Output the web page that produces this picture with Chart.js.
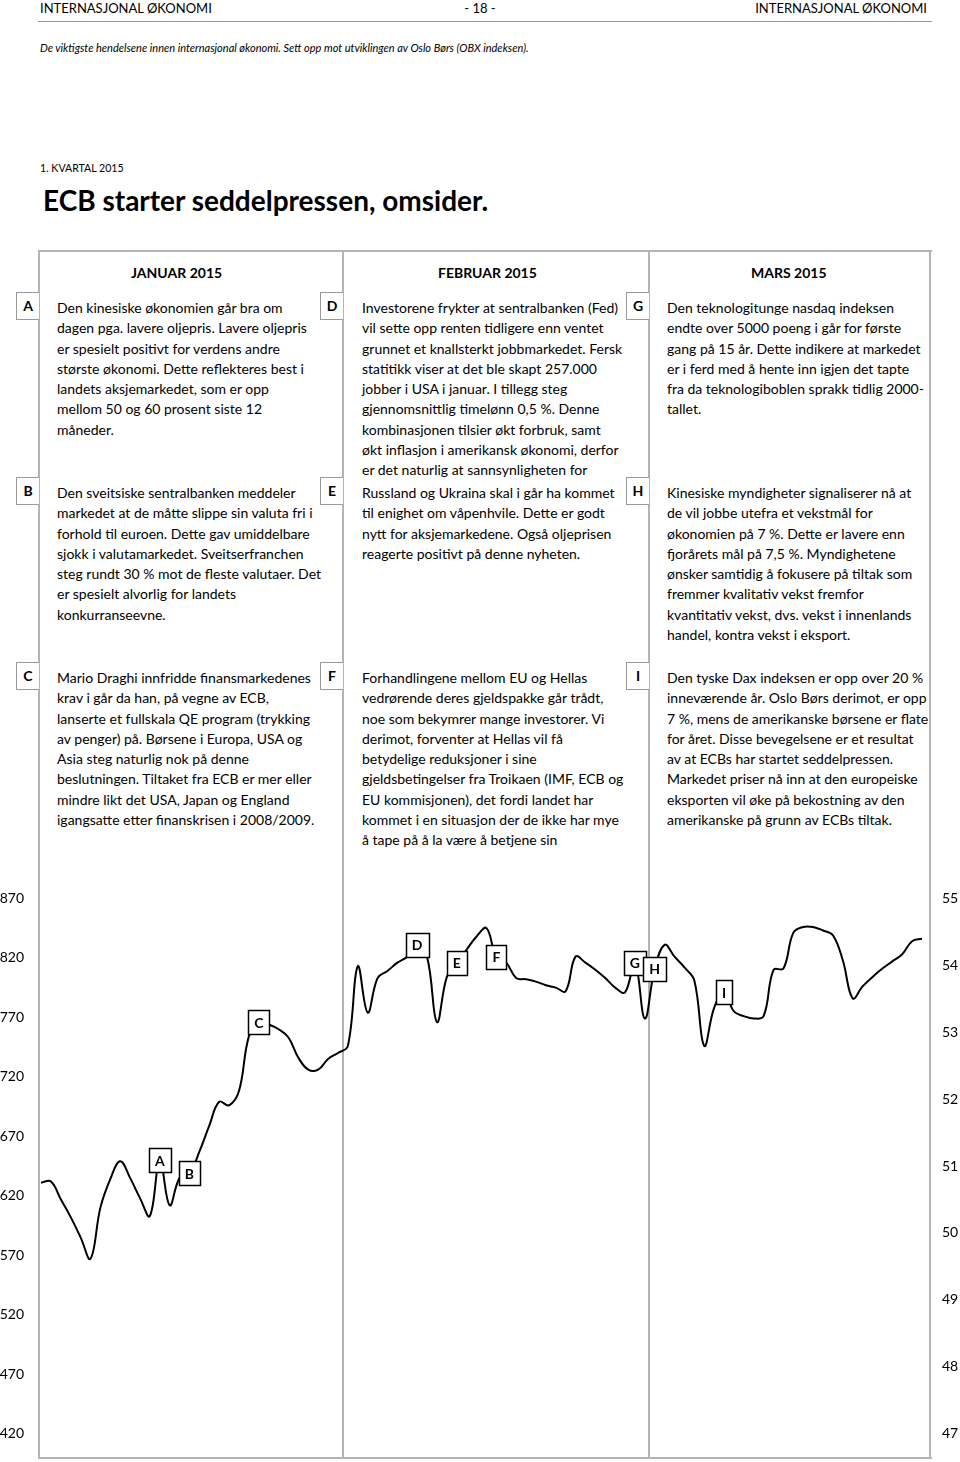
<!DOCTYPE html>
<html lang="no">
<head>
<meta charset="utf-8">
<title>Internasjonal økonomi - 1. kvartal 2015</title>
<script src="https://cdn.jsdelivr.net/npm/chart.js@4.4.1/dist/chart.umd.min.js"></script>
<style>
  body { margin: 0; width: 960px; height: 1462px; position: relative; overflow: hidden;
         background: #fff; color: #000; font-family: Lato, "Open Sans", sans-serif; }
  .t { position: absolute; white-space: nowrap; }
  .topp { font-size: 13px; line-height: 20px; top: -2px; }
  .tekst { font-size: 14px; line-height: 20.3px; }
  .mnd { font-size: 14px; font-weight: bold; line-height: 20px; top: 263px; }
  .boks { position: absolute; box-sizing: border-box; width: 23px; height: 28px;
          border: 1px solid #9a9a9a; border-right: none; background: #fff;
          font-size: 14px; font-weight: bold; line-height: 26px; text-align: center; }
  .linje { position: absolute; background: #b4b4b4; }
  #graf { position: absolute; left: 0; top: 870px; }
</style>
</head>
<body>

<div class="t topp" style="left:40px">INTERNASJONAL ØKONOMI</div>
<div class="t topp" style="left:0;width:960px;text-align:center">- 18 -</div>
<div class="t topp" style="right:33px">INTERNASJONAL ØKONOMI</div>
<div class="linje" style="left:38px;top:21px;width:894px;height:1px;background:#999"></div>

<div class="t" style="left:40px;top:38px;font-size:11px;font-style:italic;line-height:20px">De viktigste hendelsene innen internasjonal økonomi. Sett opp mot utviklingen av Oslo Børs (OBX indeksen).</div>
<div class="t" style="left:40px;top:160px;font-size:10.6px;line-height:16px">1. KVARTAL 2015</div>
<div class="t" style="left:43px;top:182px;font-size:28px;font-weight:bold;line-height:36px">ECB starter seddelpressen, omsider.</div>

<!-- rammen rundt tabellen -->
<div class="linje" style="left:38px;top:250px;width:894px;height:2px"></div>
<div class="linje" style="left:38px;top:1457px;width:894px;height:2px"></div>
<div class="linje" style="left:38px;top:250px;width:2px;height:1209px"></div>
<div class="linje" style="left:342px;top:250px;width:2px;height:1209px"></div>
<div class="linje" style="left:648px;top:250px;width:2px;height:1209px"></div>
<div class="linje" style="left:929px;top:250px;width:2px;height:1209px"></div>

<div class="t mnd" style="left:131px">JANUAR 2015</div>
<div class="t mnd" style="left:438px">FEBRUAR 2015</div>
<div class="t mnd" style="left:751px">MARS 2015</div>

<!-- bokstavbokser, høyre kant ligger på kolonnelinja -->
<div class="boks" style="left:16px;top:292px">A</div>
<div class="boks" style="left:320px;top:292px">D</div>
<div class="boks" style="left:626px;top:292px">G</div>
<div class="boks" style="left:16px;top:477px">B</div>
<div class="boks" style="left:320px;top:477px">E</div>
<div class="boks" style="left:626px;top:477px">H</div>
<div class="boks" style="left:16px;top:662px">C</div>
<div class="boks" style="left:320px;top:662px">F</div>
<div class="boks" style="left:626px;top:662px">I</div>

<div class="t tekst" style="left:57px;top:298px">Den kinesiske økonomien går bra om<br>dagen pga. lavere oljepris. Lavere oljepris<br>er spesielt positivt for verdens andre<br>største økonomi. Dette reflekteres best i<br>landets aksjemarkedet, som er opp<br>mellom 50 og 60 prosent siste 12<br>måneder.</div>
<div class="t tekst" style="left:362px;top:298px">Investorene frykter at sentralbanken (Fed)<br>vil sette opp renten tidligere enn ventet<br>grunnet et knallsterkt jobbmarkedet. Fersk<br>statitikk viser at det ble skapt 257.000<br>jobber i USA i januar. I tillegg steg<br>gjennomsnittlig timelønn 0,5 %. Denne<br>kombinasjonen tilsier økt forbruk, samt<br>økt inflasjon i amerikansk økonomi, derfor<br>er det naturlig at sannsynligheten for</div>
<div class="t tekst" style="left:667px;top:298px">Den teknologitunge nasdaq indeksen<br>endte over 5000 poeng i går for første<br>gang på 15 år. Dette indikere at markedet<br>er i ferd med å hente inn igjen det tapte<br>fra da teknologiboblen sprakk tidlig 2000-<br>tallet.</div>

<div class="t tekst" style="left:57px;top:483px">Den sveitsiske sentralbanken meddeler<br>markedet at de måtte slippe sin valuta fri i<br>forhold til euroen. Dette gav umiddelbare<br>sjokk i valutamarkedet. Sveitserfranchen<br>steg rundt 30 % mot de fleste valutaer. Det<br>er spesielt alvorlig for landets<br>konkurranseevne.</div>
<div class="t tekst" style="left:362px;top:483px">Russland og Ukraina skal i går ha kommet<br>til enighet om våpenhvile. Dette er godt<br>nytt for aksjemarkedene. Også oljeprisen<br>reagerte positivt på denne nyheten.</div>
<div class="t tekst" style="left:667px;top:483px">Kinesiske myndigheter signaliserer nå at<br>de vil jobbe utefra et vekstmål for<br>økonomien på 7 %. Dette er lavere enn<br>fjorårets mål på 7,5 %. Myndighetene<br>ønsker samtidig å fokusere på tiltak som<br>fremmer kvalitativ vekst fremfor<br>kvantitativ vekst, dvs. vekst i innenlands<br>handel, kontra vekst i eksport.</div>

<div class="t tekst" style="left:57px;top:668px">Mario Draghi innfridde finansmarkedenes<br>krav i går da han, på vegne av ECB,<br>lanserte et fullskala QE program (trykking<br>av penger) på. Børsene i Europa, USA og<br>Asia steg naturlig nok på denne<br>beslutningen. Tiltaket fra ECB er mer eller<br>mindre likt det USA, Japan og England<br>igangsatte etter finanskrisen i 2008/2009.</div>
<div class="t tekst" style="left:362px;top:668px">Forhandlingene mellom EU og Hellas<br>vedrørende deres gjeldspakke går trådt,<br>noe som bekymrer mange investorer. Vi<br>derimot, forventer at Hellas vil få<br>betydelige reduksjoner i sine<br>gjeldsbetingelser fra Troikaen (IMF, ECB og<br>EU kommisjonen), det fordi landet har<br>kommet i en situasjon der de ikke har mye<br>å tape på å la være å betjene sin</div>
<div class="t tekst" style="left:667px;top:668px">Den tyske Dax indeksen er opp over 20 %<br>inneværende år. Oslo Børs derimot, er opp<br>7 %, mens de amerikanske børsene er flate<br>for året. Disse bevegelsene er et resultat<br>av at ECBs har startet seddelpressen.<br>Markedet priser nå inn at den europeiske<br>eksporten vil øke på bekostning av den<br>amerikanske på grunn av ECBs tiltak.</div>

<canvas id="graf" width="960" height="592"></canvas>

<script>
// Dager i 1. kvartal 2015 (1. januar - 31. mars)
const dager = [];
for (let i = 0; i < 90; i++) {
    const d = new Date(2015, 0, 1 + i);
    dager.push(d.getDate() + '.' + (d.getMonth() + 1) + '.');
}

// OBX-indeksen, lest av grafen
const obx = [
    631, 632, 617, 602, 585, 567, 610, 634, 649, 635,
    618, 603, 650, 612, 635, 639, 657, 679, 699, 696,
    708, 754, 766, 764, 760, 753, 736, 726, 726, 735,
    740, 746, 813, 774, 803, 809, 816, 821, 831, 821,
    766, 804, 816, 827, 838, 845, 821, 816, 803, 802,
    800, 797, 795, 792, 821, 816, 810, 803, 795, 791,
    816, 769, 811, 831, 821, 812, 801, 746, 778, 791,
    775, 771, 769, 771, 810, 811, 841, 846, 846, 843,
    839, 818, 786, 796, 804, 811, 817, 823, 834, 836
];

// Hendelsene (A-I) og hvilken dag de hører til
const hendelser = ['A', 'B', 'C', 'D', 'E', 'F', 'G', 'H', 'I'];
const hendelseDag = [12, 15, 22, 38, 42, 46, 60, 62, 69];

// Aksene
const venstreMin = 420, venstreMaks = 870, venstreSteg = 50;
const hoyreMin = 47, hoyreMaks = 55, hoyreSteg = 1;

// Tegner boksene med bokstaver oppå linja
const hendelsePlugin = {
    id: 'hendelser',
    afterDatasetsDraw(chart) {
        const ctx = chart.ctx;
        const punkter = chart.getDatasetMeta(0).data;
        ctx.save();
        ctx.font = 'bold 14px Lato';
        ctx.textAlign = 'center';
        ctx.textBaseline = 'middle';
        hendelser.forEach((b, i) => {
            const p = punkter[hendelseDag[i]];
            const w = Math.round(ctx.measureText(b).width + 12);
            const h = 24;
            const x = Math.round(p.x - w / 2) + 0.5;
            const y = Math.round(p.y - h / 2) + 0.5;
            ctx.fillStyle = '#fff';
            ctx.fillRect(x, y, w, h);
            ctx.strokeStyle = '#000';
            ctx.lineWidth = 1.5;
            ctx.strokeRect(x, y, w, h);
            ctx.fillStyle = '#000';
            ctx.fillText(b, p.x, p.y + 1);
        });
        ctx.restore();
    }
};

const tickFont = { family: 'Lato', size: 14 };

new Chart(document.getElementById('graf').getContext('2d'), {
    type: 'line',
    data: {
        labels: dager,
        datasets: [{
            label: 'OBX',
            data: obx,
            yAxisID: 'y',
            borderColor: '#000',
            borderWidth: 2,
            pointRadius: 0,
            tension: 0.4,
            fill: false
        }]
    },
    options: {
        responsive: false,
        animation: false,
        layout: { padding: { top: 27.7, bottom: 24, left: 0, right: 0 } },
        plugins: { legend: { display: false }, tooltip: { enabled: false } },
        scales: {
            x: { display: false, offset: false },
            y: {
                position: 'left',
                min: venstreMin, max: venstreMaks,
                ticks: { stepSize: venstreSteg, padding: 17, color: '#000', font: tickFont },
                grid: { display: false, drawTicks: false },
                border: { display: false },
                afterFit(s) { s.width = 41; }
            },
            y2: {
                position: 'right',
                min: hoyreMin, max: hoyreMaks,
                ticks: { stepSize: hoyreSteg, padding: 20, color: '#000', font: tickFont },
                grid: { display: false, drawTicks: false },
                border: { display: false },
                afterFit(s) { s.width = 38; }
            }
        }
    },
    plugins: [hendelsePlugin]
});
</script>
</body>
</html>
